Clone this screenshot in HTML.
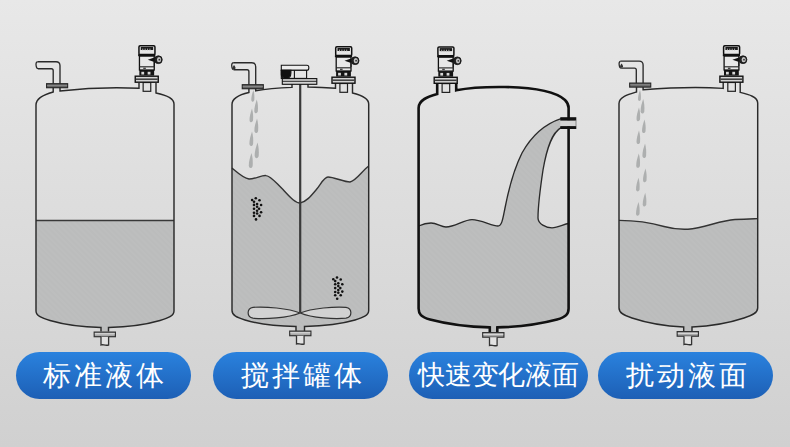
<!DOCTYPE html>
<html><head><meta charset="utf-8">
<style>
html,body{margin:0;padding:0}
body{width:790px;height:447px;overflow:hidden;position:relative;font-family:"Liberation Sans",sans-serif;
background:linear-gradient(to bottom,#e8e8e8 0%,#dcdcdc 50%,#d0d0d0 100%);}
.btn{position:absolute;top:352px;height:47px;border-radius:24px;
background:linear-gradient(to bottom,#2a82de 0%,#1d5fb5 100%);
color:#fff;font-size:28px;line-height:47px;text-align:center;white-space:nowrap;}
svg{position:absolute;left:0;top:0}
</style></head><body>
<svg width="790" height="447" viewBox="0 0 790 447">
<defs>
 <pattern id="hatch" width="4" height="4" patternUnits="userSpaceOnUse" patternTransform="rotate(-45)">
  <rect width="4" height="4" fill="#bdbebe"/>
  <rect width="2" height="4" fill="#bbbcbc"/>
 </pattern>
 <g id="sensor">
  <rect x="-3.6" y="37.5" width="7.6" height="8.8" fill="#e2e2e2" stroke="#222" stroke-width="1.2"/>
  <rect x="-11.5" y="31.2" width="23" height="6" fill="#d4d4d4" stroke="#111" stroke-width="1.4"/>
  <line x1="-11" y1="34.2" x2="11" y2="34.2" stroke="#3a3a3a" stroke-width="1.5"/>
  <rect x="-7.4" y="25" width="14.8" height="5.6" fill="#151515"/>
  <rect x="-5.4" y="26.8" width="2.8" height="2.7" fill="#d8d8d8"/>
  <rect x="0.9" y="26.8" width="2.8" height="2.7" fill="#d8d8d8"/>
  <rect x="-7.3" y="11" width="14.8" height="14" fill="#e8e8e8" stroke="#111" stroke-width="1.3"/>
  <line x1="-7.3" y1="21.8" x2="7.5" y2="21.8" stroke="#222" stroke-width="1.1"/>
  <rect x="-3.5" y="22.6" width="2.6" height="1.4" fill="#444"/>
  <path d="M1,14.7 L7.6,12.4 L7.6,17 Z" fill="#111"/>
  <line x1="7.5" y1="17" x2="7.5" y2="21" stroke="#111" stroke-width="1"/>
  <circle cx="11.6" cy="14.7" r="3.9" fill="#222" stroke="#111" stroke-width="0.8"/>
  <ellipse cx="12.3" cy="14.7" rx="2.1" ry="2.6" fill="#c4c4c4"/>
  <circle cx="12.6" cy="14.7" r="0.9" fill="#333"/>
  <rect x="-7.8" y="0.8" width="16" height="8.8" rx="1.2" fill="#e6e6e6" stroke="#111" stroke-width="1.5"/>
  <rect x="-6" y="2" width="12.4" height="3" fill="#1a1a1a"/>
  <path d="M-4,3.6 V5.3 M-1.6,3.6 V5.3 M0.8,3.6 V5.3 M3.2,3.6 V5.3" stroke="#aaa" stroke-width="1"/>
  <rect x="-8.6" y="9.2" width="17.2" height="2" fill="#111"/>
 </g>
 <g id="inlet">
  <path d="M-22.5,0 L-4,0 Q0,0 0,4 L0,22.5" fill="none" stroke="#2a2a2a" stroke-width="1.35"/>
  <path d="M-22,7 L-8.6,7 Q-6.8,7 -6.8,9 L-6.8,22.5" fill="none" stroke="#2a2a2a" stroke-width="1.35"/>
  <path d="M-22.5,0 C-24,0.5 -24.2,2.5 -23.8,4.5 C-23.5,6.3 -23,7 -22,7" fill="none" stroke="#2a2a2a" stroke-width="1.3"/>
  <rect x="-13.4" y="22" width="21" height="4" fill="#666" stroke="#2a2a2a" stroke-width="1.2"/>
  <line x1="-13" y1="23.7" x2="7.2" y2="23.7" stroke="#999" stroke-width="0.7"/>
 </g>
 <g id="drain">
  <rect x="-10.6" y="4.6" width="21.2" height="4.6" fill="#a8a8a8" stroke="#333" stroke-width="1.2"/>
  <line x1="-10" y1="6.3" x2="10" y2="6.3" stroke="#e2e2e2" stroke-width="1"/>
  <path d="M-3.8,9.3 L-3.8,17.5 C-2,16.5 0,18.5 3.8,17.5 L3.8,9.3" fill="#e2e2e2" stroke="#333" stroke-width="1.3"/>
 </g>
 <path id="drop" d="M0,0 C1.2,3 1.7,7 1.3,10.5 C0.9,13 -2.8,13.2 -3,10.6 C-3.2,7.5 -1.6,3.5 0,0 Z"/>
</defs>

<!-- ============ TANK 1 ============ -->
<path d="M36,220.5 L174,220.5 L174,311 C174,316 168,318 160,320.5 C148,324 130,327 108.5,327.5 L108.5,331.5 L101,331.5 L101,327.5 C80,327 62,324 50,320.5 C42,318 36,316 36,311 Z" fill="url(#hatch)"/>
<line x1="36" y1="220.6" x2="174" y2="220.6" stroke="#383838" stroke-width="1.5"/>
<g fill="none" stroke="#2a2a2a" stroke-width="1.45">
 <path d="M53.2,87 L53.2,92 C44,94.5 36,98 36,105 L36,311 C36,316 42,318 50,320.5 C62,324 80,327 101,327.5 L101,331.5"/>
 <path d="M108.5,331.5 L108.5,327.5 C130,327 148,324 160,320.5 C168,318 174,316 174,311 L174,104 C174,98 166,95 156,93 L156,83"/>
 <path d="M139,83 L139,88.3 Q100,86.5 60,91 L60,87"/>
</g>
<use href="#inlet" x="60" y="61.7"/>
<use href="#sensor" x="146.75" y="45"/>
<use href="#drain" x="104.8" y="327.5"/>

<!-- ============ TANK 2 ============ -->
<path d="M232,168 C238,173 243,178 249,179 C255,179 262,175 266,175.6 C271,176 276,183 283,189.5 C290,197 295,203 300,203 C306,202 311,196 316,190 C321,184 324,177 328,177 C334,177 344,182 350,182 C356,181 362,171 368.7,166 L368.7,310.4 C368.7,315.5 363,317.5 355,320 C343,323.5 325,326 304.5,326.5 L304.5,331.5 L296,331.5 L296,326.5 C275,326 257,323.5 245,320 C237,317.5 232,315.5 232,310.4 Z" fill="url(#hatch)"/>
<path d="M232,168 C238,173 243,178 249,179 C255,179 262,175 266,175.6 C271,176 276,183 283,189.5 C290,197 295,203 300,203 C306,202 311,196 316,190 C321,184 324,177 328,177 C334,177 344,182 350,182 C356,181 362,171 368.7,166" fill="none" stroke="#333" stroke-width="1.4"/>
<g fill="#adafaf"><use href="#drop" transform="translate(253.4,90) scale(0.70,0.94)"/><use href="#drop" transform="translate(256.8,99.5) scale(0.82,1.10)"/><use href="#drop" transform="translate(252,108.5) scale(0.82,1.10)"/><use href="#drop" transform="translate(257,118.5) scale(0.86,1.16)"/><use href="#drop" transform="translate(252,131.5) scale(0.86,1.16)"/><use href="#drop" transform="translate(257.5,142.5) scale(0.94,1.26)"/><use href="#drop" transform="translate(251.5,153) scale(0.90,1.21)"/></g>
<g fill="#111"><circle cx="255.8" cy="198.2" r="1.3"/><circle cx="252.1" cy="200.0" r="1.3"/><circle cx="259.5" cy="200.2" r="1.3"/><circle cx="254.0" cy="201.8" r="1.3"/><circle cx="257.1" cy="204.0" r="1.3"/><circle cx="261.1" cy="205.0" r="1.3"/><circle cx="254.0" cy="204.9" r="1.3"/><circle cx="257.1" cy="206.8" r="1.3"/><circle cx="254.0" cy="208.8" r="1.3"/><circle cx="259.1" cy="208.8" r="1.3"/><circle cx="257.1" cy="210.8" r="1.3"/><circle cx="254.0" cy="212.7" r="1.3"/><circle cx="261.1" cy="212.3" r="1.3"/><circle cx="257.1" cy="213.5" r="1.3"/><circle cx="254.0" cy="215.9" r="1.3"/><circle cx="259.5" cy="215.9" r="1.3"/><circle cx="256.0" cy="219.4" r="1.3"/><circle cx="337.0" cy="277.5" r="1.3"/><circle cx="333.3" cy="279.3" r="1.3"/><circle cx="340.7" cy="279.5" r="1.3"/><circle cx="335.2" cy="281.1" r="1.3"/><circle cx="338.3" cy="283.3" r="1.3"/><circle cx="342.3" cy="284.3" r="1.3"/><circle cx="335.2" cy="284.2" r="1.3"/><circle cx="338.3" cy="286.1" r="1.3"/><circle cx="335.2" cy="288.1" r="1.3"/><circle cx="340.3" cy="288.1" r="1.3"/><circle cx="338.3" cy="290.1" r="1.3"/><circle cx="335.2" cy="292.0" r="1.3"/><circle cx="342.3" cy="291.6" r="1.3"/><circle cx="338.3" cy="292.8" r="1.3"/><circle cx="335.2" cy="295.2" r="1.3"/><circle cx="340.7" cy="295.2" r="1.3"/><circle cx="337.2" cy="298.7" r="1.3"/></g>
<!-- shaft + propeller -->
<line x1="300.2" y1="84" x2="300.2" y2="313" stroke="#3a3a3a" stroke-width="2.2"/>
<path d="M300.2,313 C288,308 265,306.5 253,307.3 C246.5,308.3 246.5,317.2 253,318.2 C265,319.5 288,318 300.2,313 C312,308 335,306.5 346,307.3 C352.5,308.3 352.5,317.2 346,318.2 C335,319.5 312,318 300.2,313 Z" fill="#d2d2d2" stroke="#333" stroke-width="1.2"/>
<g fill="none" stroke="#2a2a2a" stroke-width="1.45">
 <path d="M248.9,87 L248.9,92.5 C240,94.5 232,97.5 232,104.5 L232,310.4 C232,315.5 237,317.5 245,320 C257,323.5 275,326 296,326.5 L296,331.5"/>
 <path d="M304.5,331.5 L304.5,326.5 C325,326 343,323.5 355,320 C363,317.5 368.7,315.5 368.7,310.4 L368.7,104 C368.7,98 361,95 352.5,93 L352.5,83"/>
 <path d="M335.5,83 L335.5,88.3 Q322,87.2 308,87 L308,84"/>
 <path d="M292,84 L292,87.4 Q270,88 255.7,90.8 L255.7,87"/>
</g>
<!-- motor -->
<g stroke="#111" stroke-width="1.1">
 <path d="M281.3,65.3 L306.9,65.3 Q308.8,65.3 308.8,67.3 L308.8,68.3 Q308.8,70.3 306.9,70.3 L281.3,70.3 Z" fill="#ececec"/>
 <rect x="281.3" y="70.3" width="25.3" height="8.1" fill="#e4e4e4"/>
 <path d="M281.3,70.3 L290.9,70.3 L290.9,73 C290.9,76.6 288.6,78.4 285.8,78.4 C283,78.4 281.3,76.8 281.3,74.5 Z" fill="#111"/>
 <line x1="294.4" y1="70.3" x2="294.4" y2="78.4"/>
 <rect x="282.3" y="78.6" width="34.5" height="5.7" fill="#d4d4d4"/>
 <line x1="282.3" y1="81.3" x2="316.8" y2="81.3" stroke-width="0.9"/>
</g>
<use href="#inlet" x="255.7" y="62.7"/><path d="M234,65 C235.2,66.5 235.8,67.5 235.5,68.5 C235,69.5 233,69.5 232.6,68.5 C232.3,67.5 233,66.5 234,65 Z" fill="#333"/>
<use href="#sensor" x="343.5" y="46"/>
<use href="#drain" x="300.3" y="326.5"/>

<!-- ============ TANK 3 ============ -->
<path d="M418.6,226 C423,224 427,223 431,223 C437,223 441,227 446,227 C455,227 464,219.6 472,219.6 C481,219.6 492,226 498,226 C502,226 503,218 505,208 C508.5,190 513.5,170 522,153 C531,137 545,124 561,118.7 L561,127.7 C552,133 547,147 543,170 C540,190 538,205 538,218 C538,224 546,227.8 552,227.8 C558,227.8 564,224 568.6,223.5 L568.6,308.5 C568.6,314 566,317 557,319.5 C542,323.5 522,326.8 497.3,327.4 L497.3,332.4 L489.8,332.4 L489.8,327.4 C465,326.8 445,323.5 430,319.5 C421,317 418.6,314 418.6,308.5 Z" fill="url(#hatch)"/>
<path d="M418.6,226 C423,224 427,223 431,223 C437,223 441,227 446,227 C455,227 464,219.6 472,219.6 C481,219.6 492,226 498,226 C502,226 503,218 505,208 C508.5,190 513.5,170 522,153 C531,137 545,124 561,118.7 M561,127.7 C552,133 547,147 543,170 C540,190 538,205 538,218 C538,224 546,227.8 552,227.8 C558,227.8 564,224 568.6,223.5" fill="none" stroke="#2a2a2a" stroke-width="1.35"/>
<g fill="none" stroke="#111" stroke-width="2.6">
 <path d="M437.2,83 L437.2,94 C428,96.5 418.6,100 418.6,108 L418.6,308.5 C418.6,314 421,317 430,319.5 C445,323.5 465,326.8 489.8,327.4 L489.8,332.4"/>
 <path d="M497.3,332.4 L497.3,327.4 C522,326.8 542,323.5 557,319.5 C566,317 568.6,314 568.6,308.5 L568.6,108 C568.6,105 568,103 565,100 C555,91 530,87.5 505,87 C490,86.8 470,87.5 456.2,90.3 L456.2,83"/>
</g>
<!-- side pipe -->
<rect x="560.3" y="120.2" width="16" height="6.2" fill="#d4d4d4"/>
<rect x="560.3" y="117.2" width="16" height="3.4" fill="#111"/>
<rect x="560.3" y="126.1" width="16" height="2.9" fill="#111"/>
<line x1="576" y1="120.4" x2="576" y2="126.2" stroke="#777" stroke-width="0.8"/>
<use href="#sensor" x="445.7" y="46.1"/>
<use href="#drain" x="493.3" y="328"/>

<!-- ============ TANK 4 ============ -->
<path d="M619,220.4 C635,220.5 650,222.5 664,226.5 C673,229 680,229.6 688,229.2 C704,228 720,220.5 735,219.5 C745,219 752,218.8 757.7,218.6 L757.7,308 C757.7,313 752,315.5 744,318 C732,322 714,326 692,327 L692,331.5 L683.7,331.5 L683.7,327 C662,326 644,322 632,318 C624,315.5 619,313 619,308 Z" fill="url(#hatch)"/>
<path d="M619,220.4 C635,220.5 650,222.5 664,226.5 C673,229 680,229.6 688,229.2 C704,228 720,220.5 735,219.5 C745,219 752,218.8 757.7,218.6" fill="none" stroke="#333" stroke-width="1.4"/>
<g fill="#adafaf"><use href="#drop" transform="translate(640,90) scale(0.66,0.88)"/><use href="#drop" transform="translate(643.2,99) scale(0.86,1.16)"/><use href="#drop" transform="translate(639,107.5) scale(0.82,1.10)"/><use href="#drop" transform="translate(644.5,119.4) scale(0.82,1.10)"/><use href="#drop" transform="translate(639,130.4) scale(0.82,1.10)"/><use href="#drop" transform="translate(645,143.5) scale(0.86,1.16)"/><use href="#drop" transform="translate(638.8,153.4) scale(0.86,1.16)"/><use href="#drop" transform="translate(645.5,168.5) scale(0.82,1.10)"/><use href="#drop" transform="translate(638.5,177.7) scale(0.82,1.10)"/><use href="#drop" transform="translate(645.2,192.8) scale(0.82,1.10)"/><use href="#drop" transform="translate(638.5,202) scale(0.82,1.10)"/></g>
<g fill="none" stroke="#2a2a2a" stroke-width="1.45">
 <path d="M636.5,87 L636.5,92 C628,94.5 619,97 619,103.5 L619,308 C619,313 624,315.5 632,318 C644,322 662,326 683.7,327 L683.7,331.5"/>
 <path d="M692,331.5 L692,327 C714,326 732,322 744,318 C752,315.5 757.7,313 757.7,308 L757.7,103 C757.7,97 749,94.5 740.2,92.4 L740.2,82"/>
 <path d="M723.2,82 L723.2,88.4 Q690,86 643.1,89.8 L643.1,87"/>
</g>
<use href="#inlet" x="643.1" y="61.1"/><path d="M621.5,63.5 C622.7,65 623.3,66 623,67 C622.5,68 620.5,68 620.1,67 C619.8,66 620.5,65 621.5,63.5 Z" fill="#333"/>
<use href="#sensor" x="731.4" y="45"/>
<use href="#drain" x="687.8" y="327"/>
</svg>
<div class="btn" style="left:16px;width:175px;letter-spacing:3px;text-indent:3px">标准液体</div>
<div class="btn" style="left:213px;width:175px;letter-spacing:3px;text-indent:5px">搅拌罐体</div>
<div class="btn" style="left:409px;width:179px;font-size:26.6px;letter-spacing:-0.3px;text-indent:-0.3px">快速变化液面</div>
<div class="btn" style="left:598px;width:175px;letter-spacing:2.7px;text-indent:4.7px">扰动液面</div>
</body></html>
